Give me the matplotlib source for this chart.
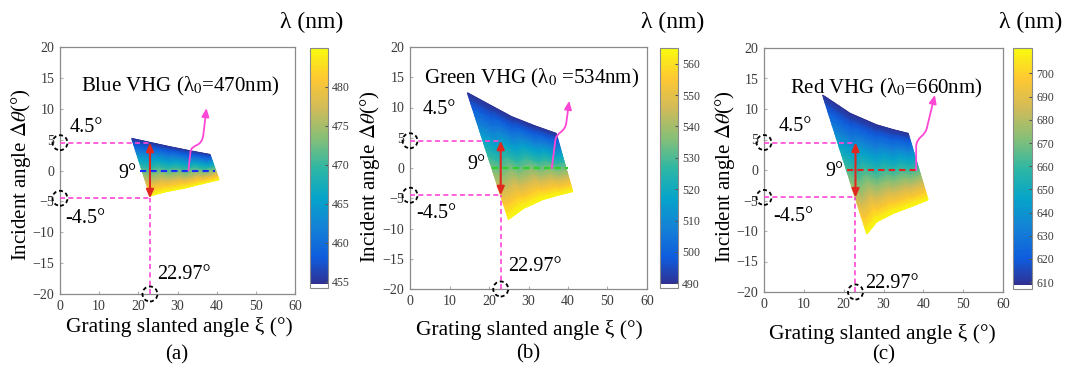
import numpy as np
import matplotlib
matplotlib.use("Agg")
import matplotlib.pyplot as plt
import matplotlib.cm as cm
from matplotlib.colors import LinearSegmentedColormap, ListedColormap, Normalize
from matplotlib.patches import Circle, FancyArrowPatch
from matplotlib.path import Path
from matplotlib.transforms import ScaledTranslation
from matplotlib.tri import Triangulation, UniformTriRefiner, LinearTriInterpolator

plt.rcParams['font.family'] = ['Liberation Serif', 'DejaVu Serif']
plt.rcParams['mathtext.fontset'] = 'stix'

# ---------------------------------------------------------------- data
panel_tags = ['(a)', '(b)', '(c)']
titles = ['Blue VHG (λ$_0$=470nm)', 'Green VHG (λ$_0$ =534nm)', 'Red VHG (λ$_0$=660nm)']
design_colors = ['#1a2cff', '#2ccf2c', '#e02424']

# Region boundary in (ξ, Δθ): upper edge (shortest λ) and lower edge (longest λ)
upper_xi = [[18.3, 23.0, 28.1, 33.2, 38.3],
            [14.5, 20.3, 25.7, 31.5, 37.0],
            [14.7, 21.6, 28.3, 32.5, 36.2]]
upper_dt = [[5.2, 4.55, 3.85, 3.2, 2.6],
            [12.45, 10.4, 8.5, 7.0, 5.73],
            [12.3, 9.3, 7.4, 6.6, 6.0]]
lower_xi = [[23.0, 27.3, 31.5, 36.0, 40.6],
            [24.9, 28.7, 33.7, 37.5, 41.2],
            [25.8, 28.3, 32.5, 37.0, 41.2]]
lower_dt = [[-4.1, -3.4, -2.9, -2.2, -1.5],
            [-8.5, -6.7, -5.2, -4.5, -3.9],
            [-10.5, -8.5, -7.1, -6.0, -4.9]]

# Wavelength at the upper / lower edge (nm)
lam_upper = [455, 490, 609]
lam_lower = [485, 565, 711]

# Colour-bar limits and ticks (nm)
cbar_lims = [(454.2, 485.0), (488.5, 565.0), (607.0, 711.0)]
cbar_ticks = [[455, 460, 465, 470, 475, 480],
              [490, 500, 510, 520, 530, 540, 550, 560],
              [610, 620, 630, 640, 650, 660, 670, 680, 690, 700]]

# Angular acceptance markers
half_acceptance = 4.5
design_slant = 22.97
zero_line_span = [(20.4, 39.5), (20.7, 40.1), (20.8, 38.3)]

# Magenta pointer paths (start, knee, curve controls, end)
pointer_pts = [[(32.8, 0.0), (33.3, 3.0), (33.6, 4.4), (36.2, 3.6), (36.6, 5.8), (37.4, 10.1)],
               [(35.9, 0.0), (36.8, 4.6), (37.1, 6.0), (39.3, 5.8), (39.6, 7.6), (40.3, 11.1)],
               [(38.2, 0.0), (38.2, 3.8), (38.3, 5.6), (40.6, 5.4), (41.0, 7.2), (42.9, 12.3)]]

# Label positions (data coords)
title_pos = [(30.6, 13.6), (30.8, 14.8), (30.8, 13.4)]
up_lbl = [(2.5, 7.0), (3.3, 9.6), (3.6, 7.1)]
dn_lbl = [(1.3, -7.7), (1.7, -7.5), (2.3, -7.7)]
nine_lbl = [(14.9, -0.45), (14.6, 0.5), (15.3, -0.3)]
slant_lbl = [(24.7, -16.9), (24.9, -16.3), (25.4, -18.6)]

# ---------------------------------------------------------------- colormap
parula_hex = ['#352a87', '#0f5cdd', '#1481d6', '#06a4ca', '#2eb7a4',
              '#87bf77', '#d1bb59', '#fec832', '#f9fb0e']
_par = LinearSegmentedColormap.from_list('parula', parula_hex, N=256)
_cols = _par(np.linspace(0, 1, 256))
_cols[:4] = (1, 1, 1, 1)
cmap = ListedColormap(_cols)

# ---------------------------------------------------------------- layout
W, H = 1070, 368
fig = plt.figure(figsize=(W / 100, H / 100), dpi=100)


def fr(x0, y0, x1, y1):
    return [x0 / W, 1 - y1 / H, (x1 - x0) / W, (y1 - y0) / H]


ax_boxes = [fr(60, 47, 295, 294), fr(410, 47, 647, 289), fr(764, 48, 1003, 292)]
cb_boxes = [fr(310, 48, 328, 288), fr(660, 48, 678, 288), fr(1013, 48, 1032, 289)]
ylabel_pos = [(21, 175), (370, 177), (725, 177)]
xlabel_pos = [(179, 327), (529, 330), (882, 334)]
tag_pos = [(177, 355), (528, 354), (884, 355)]
lam_pos = [(312, 22), (673, 22), (1031, 22)]

pink = '#ff47d6'
red = '#e0281e'
spine_c = '#8a8a8a'
tick_c = '#3a3a3a'

for i in range(3):
    ax = fig.add_axes(ax_boxes[i])
    ax.set_xlim(0, 60)
    ax.set_ylim(-20, 20)
    ax.set_xticks(np.arange(0, 61, 10))
    ax.set_yticks(np.arange(-20, 21, 5))
    ax.tick_params(direction='in', length=2.5, color='#b0b0b0', labelsize=10,
                   labelcolor=tick_c, pad=4)
    for s in ax.spines.values():
        s.set_color(spine_c)
        s.set_linewidth(0.9)

    # wavelength surface: strip of triangles between the two edges
    n = len(upper_xi[i])
    px = np.array(upper_xi[i] + lower_xi[i])
    py = np.array(upper_dt[i] + lower_dt[i])
    pz = np.array([lam_upper[i]] * n + [lam_lower[i]] * n, dtype=float)
    tris = []
    for j in range(n - 1):
        tris.append([j, j + 1, n + j])
        tris.append([j + 1, n + j + 1, n + j])
    tri = Triangulation(px, py, tris)
    fine_tri, fine_z = UniformTriRefiner(tri).refine_field(
        pz, triinterpolator=LinearTriInterpolator(tri, pz), subdiv=5)
    norm = Normalize(*cbar_lims[i])
    ax.tripcolor(fine_tri, fine_z, shading='gouraud', cmap=cmap, norm=norm, zorder=1)

    # acceptance guides
    dash = dict(color=pink, lw=1.2, dashes=(3, 2), zorder=3)
    ax.plot([0, design_slant], [half_acceptance, half_acceptance], **dash)
    ax.plot([0, design_slant], [-half_acceptance, -half_acceptance], **dash)
    ax.plot([design_slant, design_slant], [-20, -half_acceptance], **dash)

    # design wavelength line at Δθ = 0
    ax.plot(zero_line_span[i], [0, 0], color=design_colors[i], lw=1.5,
            dashes=(3, 2), zorder=3)

    # 9° span arrow
    ax.annotate('', xy=(design_slant, -half_acceptance),
                xytext=(design_slant, half_acceptance),
                arrowprops=dict(arrowstyle='<|-|>,head_length=0.5,head_width=0.22',
                                color=red, lw=1.5, shrinkA=0, shrinkB=0,
                                mutation_scale=10), zorder=4)

    # magenta pointer
    p = pointer_pts[i]
    path = Path(p, [Path.MOVETO, Path.LINETO, Path.CURVE4, Path.CURVE4,
                    Path.CURVE4, Path.LINETO])
    arr = FancyArrowPatch(path=path, arrowstyle='-|>,head_length=0.5,head_width=0.22',
                          mutation_scale=10, color=pink, lw=1.3,
                          transform=ax.transData, zorder=4)
    ax.add_patch(arr)

    # dashed circles marking the read-off points
    for (cx, cy) in [(0, half_acceptance), (0, -half_acceptance), (design_slant, -20)]:
        circ = Circle((0, 0), radius=0.075, fill=False, ec='black', lw=1.3,
                      ls=(0, (2.2, 1.6)),
                      transform=fig.dpi_scale_trans + ScaledTranslation(cx, cy, ax.transData),
                      clip_on=False, zorder=5)
        fig.add_artist(circ)

    txt = dict(fontsize=14.5, color='black', zorder=6)
    ax.text(*title_pos[i], titles[i], ha='center', va='center', fontsize=15, zorder=6)
    ax.text(*up_lbl[i], '4.5°', ha='left', va='center', **txt)
    ax.text(*dn_lbl[i], '-4.5°', ha='left', va='center', **txt)
    ax.text(*nine_lbl[i], '9°', ha='left', va='center', **txt)
    ax.text(*slant_lbl[i], '22.97°', ha='left', va='center', **txt)

    # colour bar
    cax = fig.add_axes(cb_boxes[i])
    sm = cm.ScalarMappable(norm=norm, cmap=cmap)
    cb = fig.colorbar(sm, cax=cax, ticks=cbar_ticks[i])
    cb.outline.set_edgecolor(spine_c)
    cb.outline.set_linewidth(0.8)
    cax.tick_params(direction='in', length=2, color='#555555', labelsize=8.5,
                    labelcolor=tick_c, pad=3)

    fig.text(lam_pos[i][0] / W, 1 - lam_pos[i][1] / H, 'λ (nm)', ha='center',
             va='center', fontsize=17)
    fig.text(ylabel_pos[i][0] / W, 1 - ylabel_pos[i][1] / H,
             'Incident angle $\\Delta\\theta$(°)', rotation=90, ha='center',
             va='center', fontsize=15)
    fig.text(xlabel_pos[i][0] / W, 1 - xlabel_pos[i][1] / H,
             'Grating slanted angle ξ (°)', ha='center', va='center', fontsize=15.5)
    fig.text(tag_pos[i][0] / W, 1 - tag_pos[i][1] / H, panel_tags[i],
             ha='center', va='center', fontsize=15)

fig.savefig('out.png', dpi=100)
